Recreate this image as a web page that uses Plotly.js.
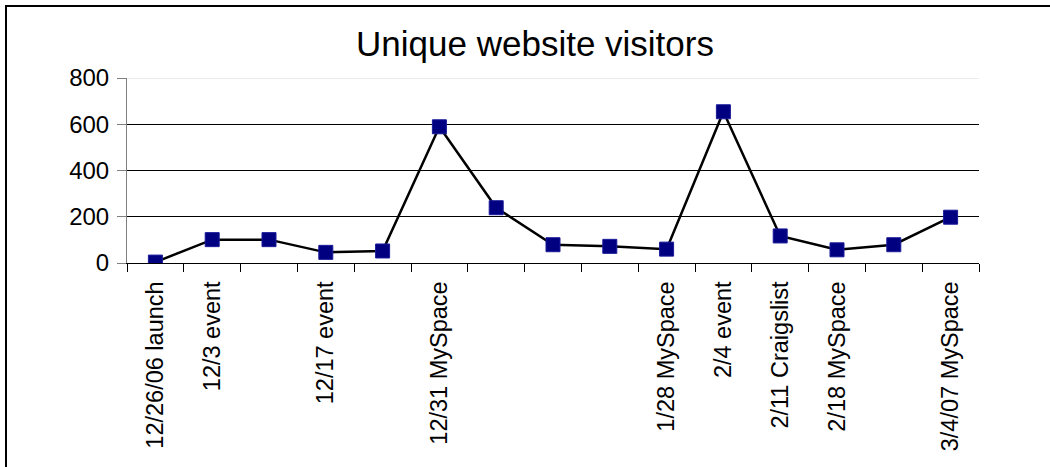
<!DOCTYPE html>
<html>
<head>
<meta charset="utf-8">
<script src="https://cdn.plot.ly/plotly-3.0.1.min.js"></script>
<style>html,body{margin:0;padding:0;background:#fff;}#chart{width:1050px;height:467px;}</style>
</head>
<body>
<div id="chart"></div>
<script>
const categoryLabels = ["12/26/06 launch", "12/3 event", "", "12/17 event", "", "12/31 MySpace", "", "", "", "1/28 MySpace", "2/4 event", "2/11 Craigslist", "2/18 MySpace", "", "3/4/07 MySpace"];
const visitors = [4, 101, 101, 46, 52, 589, 239, 79, 72, 60, 654, 117, 57, 79, 198];
const yTicks = [0, 200, 400, 600, 800];

const idx = categoryLabels.map((_, i) => i);
const boundaries = [];
for (let i = 0; i <= categoryLabels.length; i++) boundaries.push(i - 0.5);

const W = 1050, H = 467;
const mL = 127, mR = 71, mT = 78, mB = 204;
const pw = W - mL - mR, ph = H - mT - mB;
const px = v => (v - mL) / pw;
const py = v => (H - mB - v) / ph;

const trace = {
  x: idx,
  y: visitors,
  type: 'scatter',
  mode: 'lines+markers',
  line: {color: '#000000', width: 2.5},
  marker: {symbol: 'square', size: 14, color: '#000080', line: {color: '#1a1a9a', width: 1}},
  hoverinfo: 'y'
};

const layout = {
  width: W, height: H,
  margin: {l: mL, r: mR, t: mT, b: mB, pad: 0},
  paper_bgcolor: '#ffffff',
  plot_bgcolor: '#ffffff',
  showlegend: false,
  title: {
    text: 'Unique website visitors',
    font: {family: 'Liberation Sans, Arial, sans-serif', size: 35, color: '#000'},
    x: 535 / W, xref: 'container', xanchor: 'center',
    y: 1 - 44 / H, yref: 'container', yanchor: 'middle'
  },
  xaxis: {
    type: 'linear',
    range: [-0.5, categoryLabels.length - 0.5],
    tickmode: 'array',
    tickvals: idx,
    ticktext: categoryLabels,
    tickangle: -90,
    ticks: '',
    ticklabelstandoff: 8,
    tickfont: {family: 'Liberation Sans, Arial, sans-serif', size: 23.5, color: '#000'},
    showgrid: false,
    zeroline: false,
    showline: true,
    linecolor: '#000',
    linewidth: 1,
    minor: {tickmode: 'array', tickvals: boundaries, ticks: 'outside', ticklen: 8, tickcolor: '#000', tickwidth: 1, showgrid: false},
    fixedrange: true
  },
  yaxis: {
    range: [0, 800],
    tickmode: 'array',
    tickvals: yTicks,
    ticktext: yTicks.map(String),
    ticks: 'outside',
    ticklen: 9,
    tickcolor: '#808080',
    tickwidth: 1,
    ticklabelstandoff: 3,
    tickfont: {family: 'Liberation Sans, Arial, sans-serif', size: 24, color: '#000'},
    showgrid: true,
    gridcolor: '#000',
    gridwidth: 1,
    zeroline: false,
    showline: true,
    linecolor: '#808080',
    linewidth: 1,
    fixedrange: true
  },
  shapes: [
    {type: 'line', xref: 'paper', yref: 'y', x0: 0, x1: 1, y0: 800, y1: 800, line: {color: '#d9d9d9', width: 1}, layer: 'above'},
    {type: 'rect', xref: 'paper', yref: 'paper', x0: px(6), x1: px(1070), y0: py(6), y1: py(490), line: {color: '#000', width: 2}, fillcolor: 'rgba(0,0,0,0)', layer: 'below'}
  ]
};

Plotly.newPlot('chart', [trace], layout, {displayModeBar: false, staticPlot: true});
</script>
</body>
</html>
